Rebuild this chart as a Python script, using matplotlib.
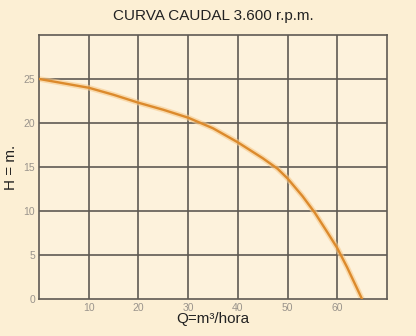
import matplotlib
matplotlib.use("Agg")
import matplotlib.pyplot as plt

# curva caudal 3600 rpm
caudal = [0, 5, 10, 15, 20, 25, 30, 35, 40, 45, 48, 50, 53, 55.5, 58, 60, 62, 64, 65]
altura = [25, 24.5, 24, 23.2, 22.3, 21.5, 20.6, 19.4, 17.8, 16, 14.8, 13.7, 11.7, 9.8, 7.6, 5.8, 3.6, 1.2, 0]

x_ticks = [10, 20, 30, 40, 50, 60]
y_ticks = [0, 5, 10, 15, 20, 25]

bg = "#fcefd4"
grid_col = "#5f5a54"
tick_col = "#9a948c"

plt.rcParams['font.family'] = ['Liberation Sans', 'DejaVu Sans']

fig = plt.figure(figsize=(4.16, 3.36), dpi=100, facecolor=bg)
ax = fig.add_axes([0.094, 0.110, 0.836, 0.786], facecolor="#fdf2dc")

for x in range(10, 70, 10):
    ax.axvline(x, color=grid_col, lw=1.2, zorder=1)
for y in range(5, 30, 5):
    ax.axhline(y, color=grid_col, lw=1.2, zorder=1)

ax.plot(caudal, altura, color="#f7c98a", lw=4, alpha=0.6, zorder=2, solid_capstyle='round')
ax.plot(caudal, altura, color="#dc8a2c", lw=1.7, zorder=3, solid_capstyle='round')

ax.set_xlim(0, 70)
ax.set_ylim(0, 30)
ax.set_xticks(x_ticks)
ax.set_yticks(y_ticks)
ax.tick_params(length=0, labelsize=7.5, colors=tick_col, pad=3)
for s in ax.spines.values():
    s.set_color(grid_col)
    s.set_linewidth(1.2)

ax.set_title("CURVA CAUDAL 3.600 r.p.m.", fontsize=11, color="#222222", pad=11)
ax.set_xlabel("Q=m³/hora", fontsize=11, color="#222222", labelpad=-1)
ax.set_ylabel("H = m.", fontsize=11, color="#222222", labelpad=4)

fig.savefig("out.png", dpi=100, facecolor=bg)
